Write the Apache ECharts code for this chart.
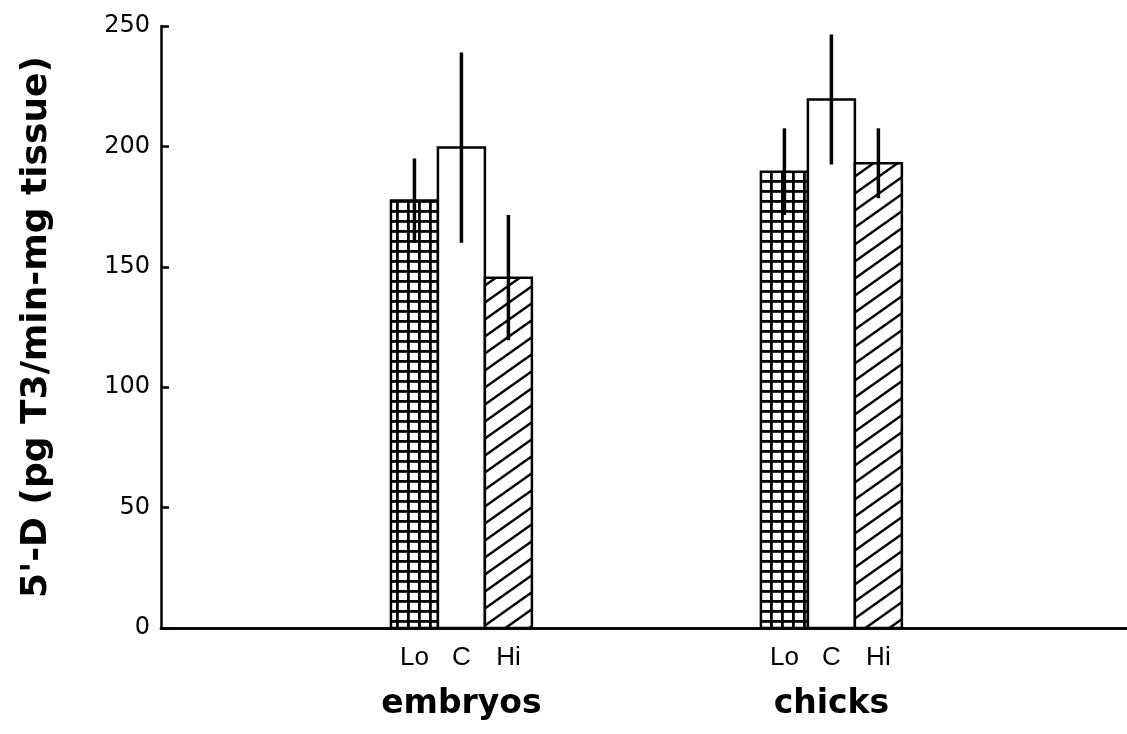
<!DOCTYPE html>
<html>
<head>
<meta charset="utf-8">
<script src="https://cdn.jsdelivr.net/npm/echarts@6/dist/echarts.min.js"></script>
<style>
  html, body { margin: 0; padding: 0; background: #ffffff; }
  #chart { width: 1127px; height: 734px; }
</style>
</head>
<body>
<div id="chart"></div>
<script>
// ---- data ----
const groups = ['embryos', 'chicks'];
const treatments = ['Lo', 'C', 'Hi'];
const embryosMean = [177.5, 199.5, 145.5];
const embryosErr  = [17.5, 39.5, 26];
const chicksMean  = [189.5, 219.5, 193];
const chicksErr   = [18, 27, 14.5];
const yTicks = [0, 50, 100, 150, 200, 250];

const groupMeans = [embryosMean, chicksMean];
const groupErrs = [embryosErr, chicksErr];

// ---- fill patterns ----
function gridPattern() {
  const c = document.createElement('canvas');
  c.width = 11; c.height = 10;
  const g = c.getContext('2d');
  g.fillStyle = '#fff'; g.fillRect(0, 0, 11, 10);
  g.fillStyle = '#000';
  g.fillRect(0, 0, 11, 2.8);
  g.fillRect(0, 0, 2.8, 10);
  return c;
}
function hatchPattern() {
  const W = 24, H = 17;
  const c = document.createElement('canvas');
  c.width = W; c.height = H;
  const g = c.getContext('2d');
  g.fillStyle = '#fff'; g.fillRect(0, 0, W, H);
  g.strokeStyle = '#000'; g.lineWidth = 2.4;
  for (let k = -1; k <= 1; k++) {
    g.beginPath();
    g.moveTo(-W, H * (1 + k) + H);
    g.lineTo(2 * W, H * (1 + k) - 2 * H);
    g.stroke();
  }
  return c;
}
const fills = [
  { image: gridPattern(), repeat: 'repeat' },
  '#ffffff',
  { image: hatchPattern(), repeat: 'repeat' }
];

const data = [];
groups.forEach((g, gi) => {
  treatments.forEach((t, ti) => {
    data.push([gi + 1, ti, groupMeans[gi][ti], groupErrs[gi][ti]]);
  });
});

const BAR_UNIT = 0.127; // bar width in x-axis units

function renderItem(params, api) {
  const gx = api.value(0), t = api.value(1), m = api.value(2), e = api.value(3);
  const base = api.coord([gx, 0]);
  const top = api.coord([gx, m]);
  const bw = api.size([BAR_UNIT, 0])[0];
  const cx = base[0] + (t - 1) * bw;
  const yHi = api.coord([gx, m + e])[1];
  const yLo = api.coord([gx, m - e])[1];
  const children = [
    { type: 'rect', shape: { x: cx - bw / 2, y: top[1], width: bw, height: base[1] - top[1] },
      style: { fill: fills[t], stroke: '#000', lineWidth: 2.5 } },
    { type: 'line', shape: { x1: cx, y1: yLo, x2: cx, y2: yHi },
      style: { stroke: '#000', lineWidth: 3.5 } },
    { type: 'text', x: cx, y: base[1] + 30,
      style: { text: treatments[t], fill: '#000', align: 'center', verticalAlign: 'middle',
        fontFamily: 'Liberation Sans', fontSize: 26 } }
  ];
  if (t === 1) {
    children.push({ type: 'text', x: cx, y: base[1] + 76,
      style: { text: groups[gx - 1], fill: '#000', align: 'center', verticalAlign: 'middle',
        fontFamily: 'DejaVu Sans', fontWeight: 'bold', fontSize: 33 } });
  }
  return { type: 'group', children };
}

const chart = echarts.init(document.getElementById('chart'), null, { renderer: 'canvas' });
chart.setOption({
  backgroundColor: '#ffffff',
  animation: false,
  grid: { left: 161, right: 0, top: 26, bottom: 106 },
  xAxis: [
    { type: 'value', min: 0.188, max: 2.799, position: 'bottom',
      axisLine: { show: true, onZero: false, lineStyle: { color: '#000', width: 2.5 } },
      axisTick: { show: false }, axisLabel: { show: false }, splitLine: { show: false } },
    { type: 'value', min: 0, max: 1, position: 'top',
      axisLine: { show: true, lineStyle: { color: '#000', width: 2.5 } },
      axisTick: { show: false }, axisLabel: { show: false }, splitLine: { show: false } }
  ],
  yAxis: {
    type: 'value', min: yTicks[0], max: yTicks[yTicks.length - 1], interval: 50,
    name: "5'-D (pg T3/min-mg tissue)", nameLocation: 'middle', nameGap: 106,
    nameTextStyle: { fontFamily: 'DejaVu Sans', fontWeight: 'bold', fontSize: 36, color: '#000' },
    axisLine: { show: true, lineStyle: { color: '#000', width: 2.5 } },
    axisTick: { show: true, inside: true, length: 8, lineStyle: { color: '#000', width: 2.5 } },
    axisLabel: { color: '#000', fontFamily: 'DejaVu Sans', fontSize: 24, margin: 11 },
    splitLine: { show: false }
  },
  series: [{
    type: 'custom', xAxisIndex: 0, yAxisIndex: 0,
    renderItem, clip: false,
    encode: { x: 0, y: 2 },
    data
  }]
});
</script>
</body>
</html>
